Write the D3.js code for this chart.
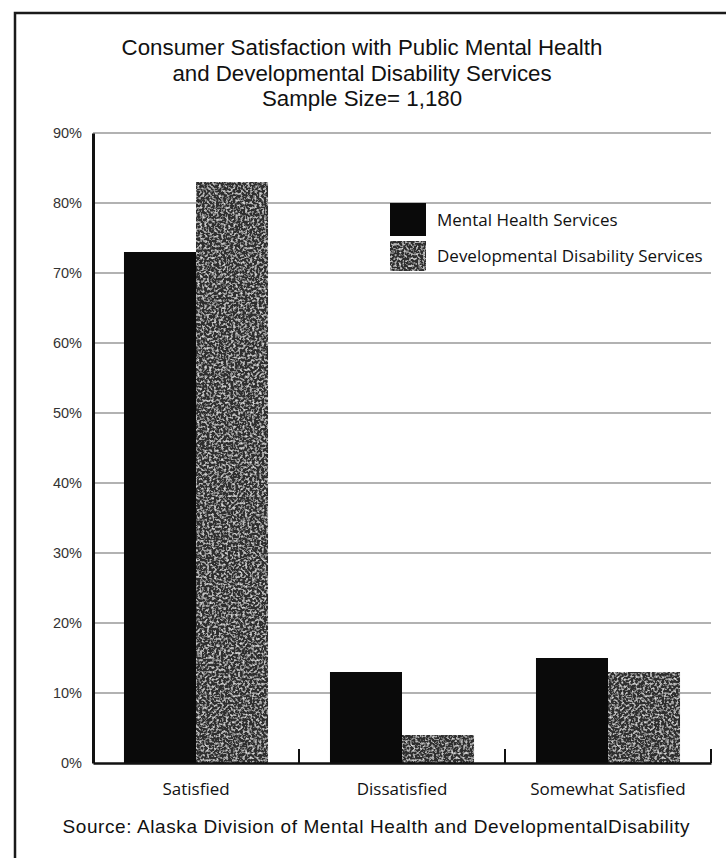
<!DOCTYPE html>
<html><head><meta charset="utf-8">
<script src="https://cdn.jsdelivr.net/npm/d3@7"></script>
<style>html,body{margin:0;padding:0;background:#fff;}svg{display:block;}</style>
</head><body>
<svg id="chart" width="726" height="858"></svg>
<script>
const titleLines = ["Consumer Satisfaction with Public Mental Health", "and Developmental Disability Services", "Sample Size= 1,180"];
const categories = ["Satisfied", "Dissatisfied", "Somewhat Satisfied"];
const seriesNames = ["Mental Health Services", "Developmental Disability Services"];
const mentalHealth = [73, 13, 15];
const devDisability = [83, 4, 13];
const yTicks = [0, 10, 20, 30, 40, 50, 60, 70, 80, 90];
const sourceText = "Source: Alaska Division of Mental Health and DevelopmentalDisability";

const svg = d3.select("#chart");
const defs = svg.append("defs");
// speckled texture for the second series
const f = defs.append("filter").attr("id","speckle").attr("x",0).attr("y",0).attr("width",1).attr("height",1);
f.append("feTurbulence").attr("type","fractalNoise").attr("baseFrequency",0.42).attr("numOctaves",2).attr("seed",5).attr("result","noise");
f.append("feColorMatrix").attr("in","noise").attr("type","matrix")
  .attr("values","0 0 0 0 0.72  0 0 0 0 0.72  0 0 0 0 0.72  2.8 0 0 0 -1.3").attr("result","dots");
f.append("feComposite").attr("in","dots").attr("in2","SourceGraphic").attr("operator","in").attr("result","clipped");
f.append("feMerge").call(m=>{m.append("feMergeNode").attr("in","SourceGraphic");m.append("feMergeNode").attr("in","clipped");});

const colors = ["#0a0a0a", "#2e2e2e"];
const filters = [null, "url(#speckle)"];

// frame
svg.append("path").attr("d","M15,870 L15,13 L730,13").attr("fill","none").attr("stroke","#1a1a1a").attr("stroke-width",2.5);

// title
svg.append("g").selectAll("text").data(titleLines).join("text")
  .attr("x",362).attr("y",(d,i)=>55+i*25.5).attr("text-anchor","middle")
  .attr("font-family","'Liberation Sans', Arial, sans-serif").attr("font-size",22.3).attr("fill","#111")
  .text(d=>d);

const x0 = d3.scaleBand().domain(categories).range([93,711]);
const x1 = d3.scaleBand().domain(seriesNames).range([0,x0.bandwidth()]).paddingOuter(0.43);
const y = d3.scaleLinear().domain([0,90]).range([763,133]);

// gridlines
svg.append("g").selectAll("line").data(yTicks.filter(d=>d>0)).join("line")
  .attr("x1",93).attr("x2",711).attr("y1",d=>y(d)).attr("y2",d=>y(d))
  .attr("stroke","#999").attr("stroke-width",1.3);

// bars
const rows = categories.map((c,i)=>({cat:c, vals:[mentalHealth[i], devDisability[i]]}));
const g = svg.append("g").selectAll("g").data(rows).join("g").attr("transform",d=>`translate(${x0(d.cat)},0)`);
g.selectAll("rect").data(d=>d.vals.map((v,j)=>({v,j}))).join("rect")
  .attr("x",d=>x1(seriesNames[d.j])).attr("width",x1.bandwidth())
  .attr("y",d=>y(d.v)).attr("height",d=>y(0)-y(d.v))
  .attr("fill",d=>colors[d.j]).attr("filter",d=>filters[d.j]);

// y axis
const yAxis = d3.axisLeft(y).tickValues(yTicks).tickFormat(d=>d+"%").tickSize(0).tickPadding(11);
const ya = svg.append("g").attr("transform","translate(93,0)").call(yAxis);
ya.select(".domain").attr("stroke","#111").attr("stroke-width",3);
ya.selectAll("text").attr("font-family","'Liberation Sans', Arial, sans-serif").attr("font-size",14.5).attr("fill","#333");

// x axis
const xAxis = d3.axisBottom(x0).tickSize(0).tickPadding(20);
const xa = svg.append("g").attr("transform","translate(0,763)").call(xAxis);
xa.select(".domain").attr("stroke","#111").attr("stroke-width",2.5);
xa.selectAll("text").attr("font-family","'Open Sans', sans-serif").attr("font-size",17).attr("fill","#111");
// category separator ticks
svg.append("g").selectAll("line").data(categories).join("line")
  .attr("x1",d=>x0(d)+x0.bandwidth()).attr("x2",d=>x0(d)+x0.bandwidth())
  .attr("y1",749).attr("y2",763).attr("stroke","#111").attr("stroke-width",2);

// legend
const leg = svg.append("g").attr("transform","translate(390,203)");
const li = leg.selectAll("g").data(seriesNames).join("g").attr("transform",(d,i)=>`translate(0,${i*36})`);
li.append("rect").attr("width",36).attr("height",(d,i)=>i===0?33:30).attr("y",(d,i)=>i===0?0:2)
  .attr("fill",(d,i)=>colors[i]).attr("filter",(d,i)=>filters[i]);
li.append("text").attr("x",47).attr("y",23).attr("font-family","'Open Sans', sans-serif").attr("font-size",17).attr("fill","#111").text(d=>d);

// source
svg.append("text").attr("x",376).attr("y",833).attr("text-anchor","middle")
  .attr("font-family","'Liberation Sans', Arial, sans-serif").attr("font-size",19).attr("fill","#111")
  .attr("textLength",627).attr("lengthAdjust","spacing").text(sourceText);
</script>
</body></html>
